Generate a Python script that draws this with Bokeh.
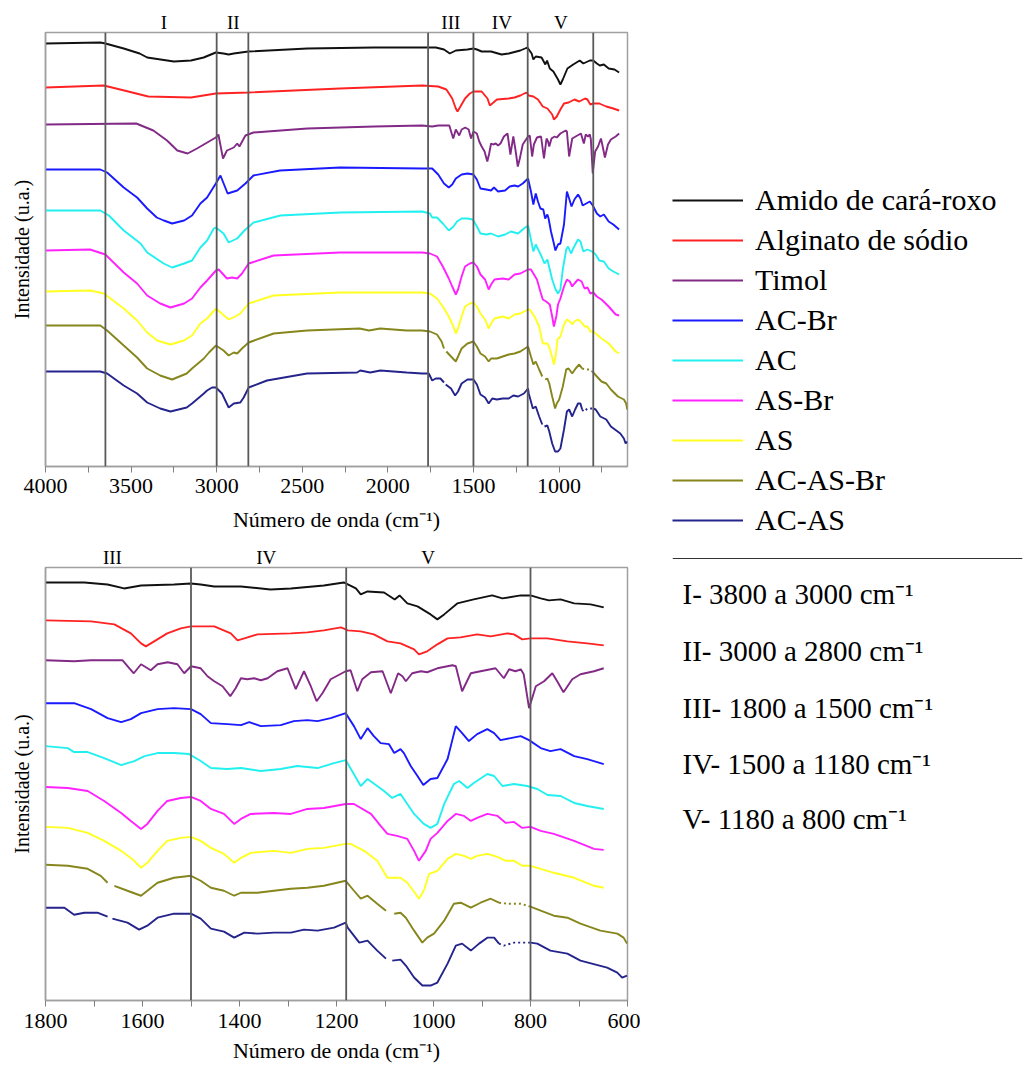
import numpy as np
from bokeh.plotting import figure
from bokeh.models import Range1d, FixedTicker, LinearAxis, Span, Label, Legend, LegendItem
from bokeh.layouts import row, column
from bokeh.embed import file_html
from bokeh.resources import INLINE

NAN = float("nan")

# ---------------- data (wavenumber cm-1, intensity a.u. with vertical offset) ----------------
series_names = ["Amido de cará-roxo", "Alginato de sódio", "Timol", "AC-Br", "AC",
                "AS-Br", "AS", "AC-AS-Br", "AC-AS"]
series_colors = ["#111111", "#ff2222", "#822a86", "#1a1aff", "#22f0f0",
                 "#ff22ff", "#ffff22", "#86861c", "#24248c"]

amido = [(4000, 457), (3680, 458), (3650, 457), (3543, 452), (3450, 447), (3406, 443), (3250, 439),
         (3150, 440), (3076, 443), (3005, 448),
         (2960, 447), (2930, 446), (2900, 447), (2815, 449), (2470, 452), (2080, 453),
         (1800, 453), (1720, 453), (1672, 451), (1638, 447), (1603, 450), (1535, 451), (1500, 452),
         (1480, 451), (1452, 449), (1397, 449), (1336, 446), (1294, 447), (1226, 450), (1185, 453),
         (1160, 447), (1150, 441), (1136, 444), (1102, 443), (1080, 436), (1070, 440), (1054, 432),
         (1033, 429), (1006, 421), (992, 416), (978, 421), (951, 432), (917, 436), (879, 440),
         (858, 437), (820, 440), (800, 440), (779, 437), (762, 435), (738, 436), (710, 432),
         (676, 431), (649, 428)]

alginato = [(4000, 413), (3660, 415), (3540, 410), (3400, 404), (3150, 403), (3005, 407), (2815, 408),
            (2280, 412),
            (1800, 415), (1706, 414), (1658, 411), (1624, 402), (1603, 392), (1593, 389), (1576, 394),
            (1549, 402), (1521, 407), (1500, 409), (1452, 409), (1418, 402), (1404, 395), (1390, 397),
            (1363, 401), (1294, 402), (1260, 403), (1226, 405), (1191, 408), (1181, 406), (1177, 405),
            (1150, 404), (1123, 401), (1095, 394), (1068, 392), (1040, 386), (1030, 381), (1013, 384),
            (992, 391), (971, 397), (944, 398), (910, 401), (882, 399), (848, 402), (834, 401),
            (817, 396), (800, 397), (765, 397), (724, 394), (683, 392), (649, 390)]

timol = [(4000, 376), (3470, 377), (3370, 370), (3290, 360), (3230, 350), (3170, 347), (3115, 352),
         (3005, 363), (2990, 366), (2963, 342), (2940, 350), (2900, 353), (2880, 357), (2867, 354),
         (2832, 365), (2785, 368), (2470, 372), (2080, 374),
         (1800, 375), (1741, 374), (1706, 375), (1641, 375), (1627, 367), (1618, 362), (1603, 371),
         (1583, 365), (1569, 371), (1548, 373), (1528, 371), (1514, 362), (1500, 369), (1480, 367),
         (1466, 359), (1452, 354), (1435, 349), (1419, 339), (1408, 347), (1397, 357), (1384, 356),
         (1370, 357), (1356, 355), (1342, 357), (1322, 364), (1301, 367), (1284, 346), (1267, 364),
         (1253, 349), (1241, 334), (1229, 342), (1212, 356), (1181, 364), (1171, 365), (1157, 344),
         (1147, 356), (1129, 363), (1105, 364), (1088, 342), (1073, 362), (1064, 359), (1057, 354),
         (1044, 362), (1026, 364), (1013, 363), (992, 367), (961, 370), (954, 369), (941, 344),
         (923, 362), (903, 364), (872, 367), (855, 357), (844, 366), (831, 364), (820, 366),
         (814, 361), (803, 327), (789, 349), (772, 354), (755, 362), (745, 354), (732, 343),
         (714, 356), (697, 361), (669, 364), (649, 367)]

ac_br = [(4000, 331), (3680, 331), (3640, 328), (3543, 313), (3465, 303), (3406, 292), (3350, 283),
         (3309, 280), (3260, 277), (3190, 280), (3144, 285), (3095, 297), (3056, 303), (3005, 317),
         (2978, 325), (2936, 307), (2880, 310), (2832, 317), (2785, 325),
         (2630, 330), (2280, 333),
         (1800, 332), (1741, 332), (1706, 326), (1672, 317), (1644, 313), (1624, 316), (1603, 322),
         (1569, 326), (1535, 327), (1500, 326), (1480, 321), (1459, 312), (1425, 311), (1397, 310),
         (1380, 313), (1356, 309), (1315, 310), (1288, 314), (1260, 315), (1239, 314), (1212, 317),
         (1181, 322), (1164, 309), (1150, 296), (1136, 307), (1123, 299), (1109, 292), (1092, 291),
         (1081, 282), (1068, 286), (1061, 282), (1047, 269), (1033, 259), (1021, 250), (1006, 256),
         (992, 257), (971, 276), (954, 309), (941, 302), (927, 294), (910, 301), (889, 306),
         (875, 302), (862, 295), (841, 297), (820, 299), (803, 295), (779, 287), (759, 284),
         (738, 286), (710, 279), (683, 276), (649, 271)]

ac = [(4000, 290), (3680, 290), (3630, 285), (3543, 270), (3445, 257), (3406, 248), (3310, 237),
      (3260, 233), (3190, 237), (3144, 240), (3095, 253), (3056, 260), (3017, 272), (3004, 273),
      (2960, 267), (2930, 258), (2880, 262), (2838, 270),
      (2784, 278), (2628, 285), (2278, 288),
      (1800, 289), (1754, 287), (1741, 283), (1713, 283), (1679, 277), (1644, 270), (1617, 274),
      (1596, 279), (1569, 282), (1535, 282), (1504, 281), (1480, 274), (1459, 267), (1425, 266),
      (1397, 267), (1356, 264), (1315, 266), (1281, 269), (1239, 267), (1205, 272), (1181, 275),
      (1150, 249), (1136, 256), (1102, 244), (1085, 237), (1068, 241), (1054, 231), (1040, 221),
      (1020, 211), (1006, 207), (992, 211), (978, 231), (958, 251), (947, 254), (930, 247),
      (917, 252), (889, 261), (875, 259), (858, 249), (834, 251), (807, 249), (786, 246),
      (765, 240), (738, 239), (710, 232), (683, 229), (649, 226)]

as_br = [(4000, 250), (3740, 251), (3650, 246), (3543, 228), (3465, 217), (3406, 205), (3330, 197),
         (3270, 193), (3190, 197), (3144, 202), (3095, 213), (3056, 220), (3004, 230), (2988, 231),
         (2940, 222), (2910, 223), (2880, 222), (2852, 227),
         (2813, 237), (2667, 245), (2278, 248),
         (1800, 248), (1754, 247), (1713, 244), (1679, 234), (1644, 222), (1624, 214), (1603, 206),
         (1590, 211), (1569, 224), (1549, 234), (1521, 237), (1500, 238), (1480, 234), (1459, 226),
         (1432, 221), (1411, 211), (1397, 216), (1377, 221), (1329, 222), (1294, 221), (1260, 226),
         (1226, 227), (1181, 231), (1164, 231), (1129, 221), (1109, 209), (1095, 201), (1075, 199),
         (1054, 196), (1040, 184), (1030, 174), (1016, 184), (1006, 196), (992, 202), (971, 214),
         (954, 221), (937, 219), (923, 214), (910, 217), (889, 221), (868, 219), (851, 212),
         (834, 213), (817, 207), (800, 208), (779, 204), (752, 201), (710, 194), (669, 186),
         (649, 185)]

as_ = [(4000, 209), (3737, 210), (3659, 207), (3543, 192), (3465, 180), (3406, 168), (3348, 160),
       (3270, 156), (3192, 160), (3144, 165), (3095, 177), (3056, 182), (3004, 192), (2930, 181),
       (2891, 184), (2862, 187), (2813, 197), (2667, 205),
       (2278, 208),
       (1800, 208), (1754, 207), (1713, 202), (1679, 194), (1644, 184), (1617, 174), (1603, 167),
       (1590, 172), (1569, 184), (1549, 194), (1521, 197), (1500, 198), (1480, 194), (1459, 187),
       (1432, 181), (1411, 172), (1397, 177), (1377, 182), (1329, 184), (1294, 182), (1260, 186),
       (1226, 187), (1181, 191), (1171, 191), (1143, 184), (1116, 174), (1095, 157), (1068, 157),
       (1054, 152), (1037, 141), (1030, 136), (1020, 144), (1009, 161), (992, 164), (971, 176),
       (954, 181), (937, 179), (923, 176), (910, 179), (889, 181), (868, 178), (851, 174),
       (834, 174), (817, 169), (800, 169), (779, 166), (752, 162), (710, 157), (669, 149),
       (649, 147)]

ac_as_br = [(4000, 175), (3680, 175), (3640, 170), (3543, 155), (3465, 143), (3406, 132), (3330, 125),
            (3260, 121), (3175, 127), (3144, 132), (3075, 142), (3045, 148), (3004, 155), (2960, 150),
            (2930, 145), (2900, 148), (2880, 147), (2852, 152),
            (2813, 158), (2667, 167), (2472, 170), (2165, 172), (2110, 170), (2045, 172), (1890, 170),
            (1800, 170), (1754, 169), (1713, 166), (1686, 159), (1672, 152), (1668, NAN), (1658, 149),
            (1631, 144), (1603, 139), (1590, 144), (1569, 152), (1535, 157), (1500, 159), (1480, 154),
            (1459, 147), (1432, 144), (1411, 139), (1397, 142), (1363, 142), (1329, 144), (1294, 146),
            (1260, 147), (1226, 149), (1181, 154), (1164, 144), (1150, 136), (1136, 139), (1116, 131),
            (1098, 124), (1092, NAN), (1081, 121), (1068, 122), (1057, 117), (1040, 104), (1023, 92),
            (1013, 97), (999, 101), (978, 114), (958, 131), (944, 132), (923, 127), (903, 132),
            (882, 136), (865, 132), (848, 131), (820, 131), (800, 128), (779, 124), (752, 119),
            (724, 117), (697, 111), (656, 104), (621, 101), (608, 97), (601, 91)]

ac_as = [(4000, 129), (3680, 129), (3640, 127), (3543, 115), (3465, 107), (3406, 98), (3330, 92),
         (3270, 89), (3175, 93), (3144, 97), (3075, 107), (3056, 110), (3027, 113), (3004, 113),
         (2969, 107), (2930, 93), (2900, 97), (2862, 98),
         (2842, 103), (2813, 113), (2706, 120), (2472, 127), (2180, 128), (2161, 130), (2103, 128),
         (2044, 130), (1890, 128),
         (1800, 127), (1761, 127), (1741, 120), (1720, 122), (1693, 122), (1672, 118), (1667, NAN),
         (1662, 116), (1631, 112), (1607, 105), (1590, 109), (1569, 117), (1535, 121), (1500, 121),
         (1480, 116), (1459, 106), (1432, 103), (1411, 97), (1390, 102), (1363, 101), (1329, 102),
         (1294, 102), (1267, 105), (1239, 104), (1205, 107), (1181, 112), (1177, 107), (1153, 92),
         (1136, 94), (1116, 84), (1098, 76), (1092, NAN), (1085, 74), (1068, 75), (1057, 69),
         (1040, 57), (1023, 49), (1006, 49), (992, 52), (971, 71), (954, 89), (941, 91), (923, 84),
         (906, 91), (889, 97), (875, 97), (865, 91), (855, 89), (834, 92), (800, 92), (786, 91),
         (759, 84), (724, 81), (697, 74), (642, 67), (621, 62), (611, 57), (601, 59)]

series_data = [amido, alginato, timol, ac_br, ac, as_br, as_, ac_as_br, ac_as]

# spectral regions
top_boundaries = [3650, 3000, 2815, 1765, 1500, 1183, 800]
top_region_labels = ["I", "II", "III", "IV", "V"]
top_region_pos = [3308, 2903, 1632, 1334, 990]
bot_boundaries = [1500, 1180, 800]
bot_region_labels = ["III", "IV", "V"]
bot_region_pos = [1662, 1345, 1011]

top_major = [4000, 3500, 3000, 2500, 2000, 1500, 1000]
top_minor = [3750, 3250, 2750, 2250, 1750, 1250, 750]
bot_major = [1800, 1600, 1400, 1200, 1000, 800, 600]
bot_minor = [1700, 1500, 1300, 1100, 900, 700]

dotted_series = ["AC-AS-Br", "AC-AS"]
dotted_span = (800, 865)

region_texts = ["I- 3800 a 3000 cm\u207b\u00b9", "II- 3000 a 2800 cm\u207b\u00b9",
                "III- 1800 a 1500 cm\u207b\u00b9", "IV- 1500 a 1180 cm\u207b\u00b9",
                "V- 1180 a 800 cm\u207b\u00b9"]

FONT = "Liberation Serif"
FRAME = "#a0a0a0"
VLINE = "#5a5a5a"


def make_panel(xr, major, minor, boundaries, rlabels, rpos, height, b_top, b_bottom,
               lab_standoff, title_standoff):
    p = figure(width=640, height=height, x_range=Range1d(*xr), y_range=Range1d(34, 468),
               output_backend="svg", toolbar_location=None,
               min_border_left=45, min_border_right=13, min_border_top=b_top,
               min_border_bottom=b_bottom, background_fill_color="white",
               border_fill_color="white")
    p.grid.visible = False
    p.outline_line_color = FRAME
    p.outline_line_width = 1.5

    xa = p.xaxis[0]
    xa.ticker = FixedTicker(ticks=major, minor_ticks=minor)
    xa.axis_line_color = FRAME
    xa.axis_line_width = 1.5
    xa.major_tick_line_color = "#808080"
    xa.minor_tick_line_color = "#808080"
    xa.major_tick_out = 6
    xa.major_tick_in = 0
    xa.minor_tick_out = 6
    xa.minor_tick_in = 0
    xa.major_label_text_font = FONT
    xa.major_label_text_font_size = "22px"
    xa.major_label_text_color = "black"
    xa.major_label_standoff = lab_standoff
    xa.axis_label = "Número de onda (cm\u207b\u00b9)"
    xa.axis_label_text_font = FONT
    xa.axis_label_text_font_size = "22px"
    xa.axis_label_text_font_style = "normal"
    xa.axis_label_text_color = "black"
    xa.axis_label_standoff = title_standoff

    ya = p.yaxis[0]
    ya.ticker = FixedTicker(ticks=[])
    ya.axis_line_color = FRAME
    ya.axis_line_width = 1.5
    ya.major_tick_line_color = None
    ya.minor_tick_line_color = None
    ya.major_tick_out = 0
    ya.major_tick_in = 0
    ya.minor_tick_out = 0
    ya.axis_label = "Intensidade (u.a.)"
    ya.axis_label_text_font = FONT
    ya.axis_label_text_font_size = "20px"
    ya.axis_label_text_font_style = "normal"
    ya.axis_label_text_color = "black"
    ya.axis_label_standoff = 13

    top_ax = LinearAxis(ticker=FixedTicker(ticks=rpos),
                        major_label_overrides={pos: lab for pos, lab in zip(rpos, rlabels)},
                        axis_line_color=None, major_tick_line_color=None,
                        minor_tick_line_color=None, major_tick_out=0, major_tick_in=0,
                        minor_tick_out=0, minor_tick_in=0, major_label_standoff=0,
                        major_label_text_font=FONT, major_label_text_font_size="19px",
                        major_label_text_color="black")
    p.add_layout(top_ax, "above")

    for b in boundaries:
        p.add_layout(Span(location=b, dimension="height", line_color=VLINE, line_width=1.8))

    for name, color, pts in zip(series_names, series_colors, series_data):
        wn = np.array([q[0] for q in pts], dtype=float)
        it = np.array([q[1] for q in pts], dtype=float)
        if name in dotted_series:
            lo, hi = dotted_span
            inside = (wn > lo) & (wn < hi)
            solid = it.copy()
            solid[inside] = np.nan
            p.line(wn, solid, line_color=color, line_width=1.9)
            sel = (wn >= lo) & (wn <= hi)
            p.line(wn[sel], it[sel], line_color=color, line_width=1.9, line_dash="2 3")
        else:
            p.line(wn, it, line_color=color, line_width=1.9)
    return p


top = make_panel((4000, 600), top_major, top_minor, top_boundaries, top_region_labels,
                 top_region_pos, 537, 32, 71, 6, 11)
bot = make_panel((1800, 600), bot_major, bot_minor, bot_boundaries, bot_region_labels,
                 bot_region_pos, 530, 30, 67, 7, 7)

# ---------------- right-hand legend and region list ----------------
side = figure(width=387, height=1067, x_range=Range1d(672, 1022), y_range=Range1d(1067, 183),
              output_backend="svg", toolbar_location=None, x_axis_location=None,
              y_axis_location=None, min_border_left=32, min_border_right=5,
              min_border_top=183, min_border_bottom=0, outline_line_color=None,
              background_fill_color="white", border_fill_color="white")
side.grid.visible = False

items = []
for name, color in zip(series_names, series_colors):
    rr = side.line(x=[NAN], y=[NAN], line_color=color, line_width=2)
    items.append(LegendItem(label=name, renderers=[rr]))
leg = Legend(items=items, location="top_left", glyph_width=71, glyph_height=34,
             label_height=34, spacing=6, padding=5, margin=0, label_standoff=12,
             label_text_font=FONT, label_text_font_size="30px", label_text_color="black",
             border_line_color=None, background_fill_alpha=0)
side.add_layout(leg)

side.add_layout(Span(location=558, dimension="width", line_color="#333333", line_width=1.2))

text_y = [593, 650, 707, 763, 818]
for t, yy in zip(region_texts, text_y):
    side.add_layout(Label(x=682, y=yy, text=t, text_font=FONT, text_font_size="29px",
                          text_baseline="middle", text_color="black"))

layout = row(column(top, bot), side)
open("out.html", "w").write(file_html(layout, INLINE))
